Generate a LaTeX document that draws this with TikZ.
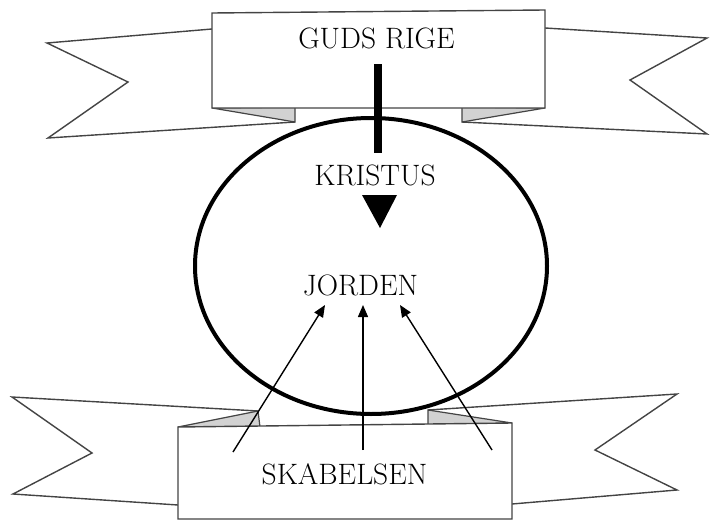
\documentclass[tikz,border=0pt]{standalone}
\usetikzlibrary{arrows.meta}
\definecolor{ribbonline}{HTML}{444444}
\definecolor{foldfill}{HTML}{D2D2D2}
\tikzset{
  ribbon/.style={draw=ribbonline, line width=1.4pt, line join=miter},
  foldpart/.style={draw=ribbonline, fill=foldfill, line width=1.2pt},
  ribbonbox/.style={draw=ribbonline, fill=white, line width=1.4pt},
  label/.style={font=\fontsize{29.5}{32}\selectfont, anchor=base, inner sep=0pt},
  thinarrow/.style={line width=1.4pt, -{Triangle[length=12pt,width=10pt]}},
}
\begin{document}
\begin{tikzpicture}[x=1pt,y=-1pt]
\useasboundingbox (0,0) rectangle (710,522);
% top ribbon
\draw[ribbon] (212,29) -- (47,43) -- (128,82) -- (48,138) -- (295,122);
\draw[ribbon] (545,28) -- (707,38) -- (630,80) -- (707,134) -- (462,122);
\draw[foldpart] (212,108) -- (295,122) -- (295,107) -- cycle;
\draw[foldpart] (462,107) -- (462,122) -- (545,108) -- cycle;
\draw[ribbonbox] (212,13) -- (545,10) -- (545,108) -- (212,108) -- cycle;
% bottom ribbon
\draw[ribbon] (258,411) -- (12,397) -- (92,453) -- (13,494) -- (178,505);
\draw[ribbon] (428,410) -- (677,394) -- (595,450) -- (677,490) -- (512,504);
\draw[foldpart] (178,427) -- (258,411) -- (260,427) -- cycle;
\draw[foldpart] (428,410) -- (428,426) -- (512,423) -- cycle;
\draw[ribbonbox] (178,427) -- (512,423) -- (512,519) -- (178,519) -- cycle;
% circle
\draw[line width=4pt] (371,266) ellipse [x radius=176, y radius=148];
% labels
\node[label] (guds) at (376.5,48) {GUDS RIGE};
\node[label] (kristus) at (375,185) {KRISTUS};
\node[label] (jorden) at (360.5,295) {JORDEN};
\node[label] (skab) at (344.5,484) {SKABELSEN};
% thick line and arrowhead
\coordinate (k1) at (378,64);
\coordinate (k2) at (378,153);
\draw[line width=8pt] (k1) -- (k2);
\coordinate (t1) at (362,195);
\coordinate (t2) at (397,195);
\coordinate (t3) at (380,228);
\fill (t1) -- (t2) -- (t3) -- cycle;
% thin arrows
\coordinate (s1) at (233,452);
\coordinate (j1) at (325,305);
\coordinate (s2) at (363,450);
\coordinate (j2) at (363,305);
\coordinate (s3) at (492,450);
\coordinate (j3) at (400,305);
\draw[thinarrow] (s1) -- (j1);
\draw[thinarrow] (s2) -- (j2);
\draw[thinarrow] (s3) -- (j3);
\end{tikzpicture}
\end{document}
